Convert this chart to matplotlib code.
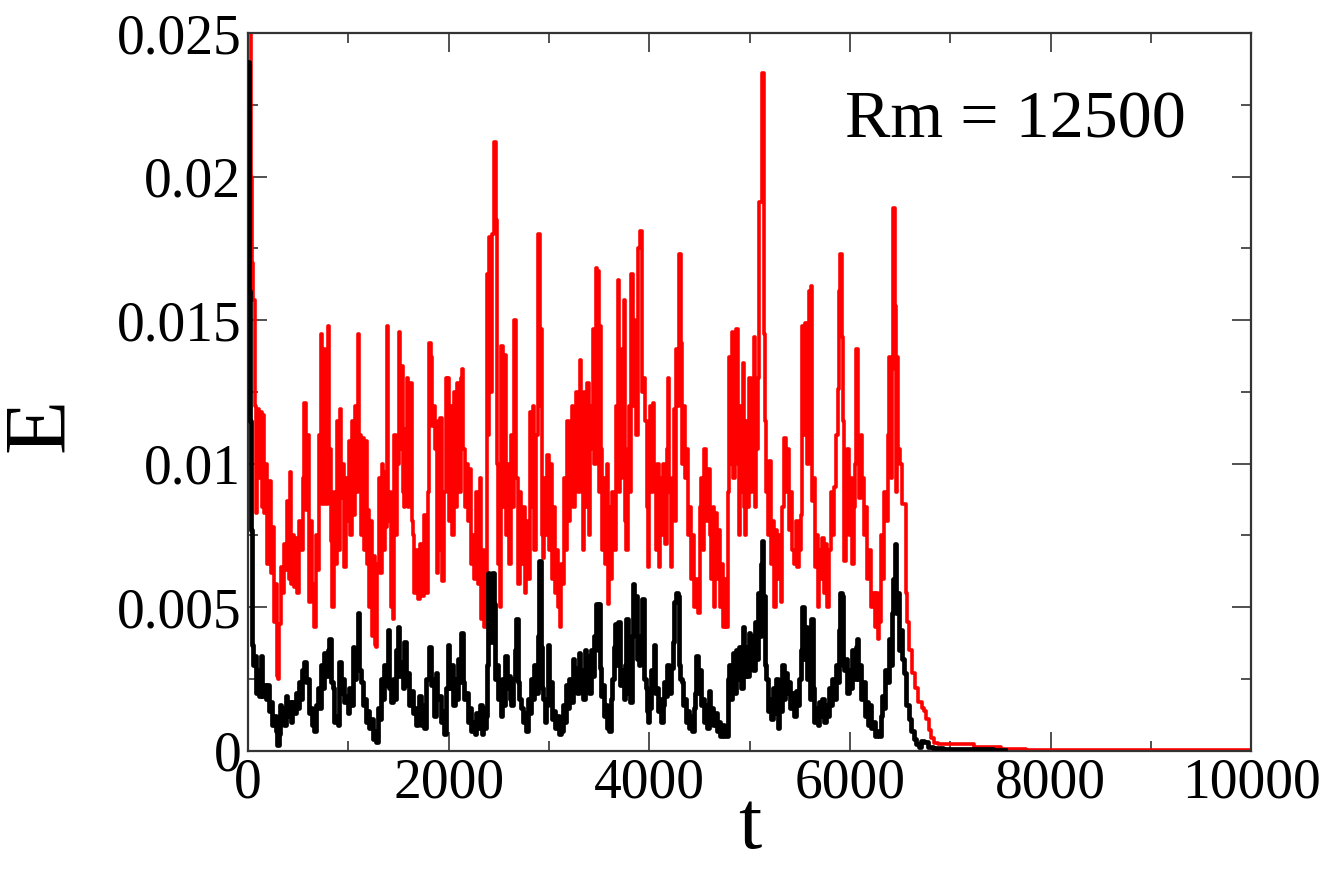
import numpy as np
import matplotlib
matplotlib.use("Agg")
import matplotlib.pyplot as plt
from matplotlib.ticker import MultipleLocator

plt.rcParams['font.family'] = ['Liberation Serif', 'DejaVu Serif']

# values, E given in units of 1e-3
red_pts = [
    (0, 26.0), (25, 25.5), (35, 20.0), (45, 17.0), (60, 15.7), (75, 12.0), (85, 8.3), (100, 11.9),
    (115, 9.5), (130, 11.8), (140, 8.5), (150, 11.7), (165, 8.3), (183, 10.0), (200, 6.5), (215, 9.4),
    (233, 6.2), (250, 7.8), (265, 4.5), (283, 5.8), (295, 2.6), (305, 2.5), (317, 4.4), (330, 6.4),
    (345, 5.5), (360, 7.2), (380, 6.3), (400, 8.7), (410, 6.0), (417, 9.7), (430, 5.8), (450, 7.5),
    (467, 5.7), (480, 7.4), (500, 5.5), (520, 8.0), (540, 7.0), (555, 9.5), (567, 12.1), (580, 8.4),
    (600, 11.0), (615, 5.2), (630, 8.0), (645, 5.8), (667, 4.3), (680, 7.5), (700, 6.3), (715, 11.0),
    (733, 14.5), (745, 8.6), (760, 14.0), (772, 9.0), (783, 8.6), (800, 14.8), (815, 10.5), (830, 7.3),
    (850, 5.0), (865, 9.0), (880, 6.5), (895, 11.5), (905, 7.0), (917, 11.9), (930, 8.8), (945, 10.0),
    (967, 6.4), (980, 9.5), (995, 8.0), (1010, 10.8), (1025, 7.5), (1040, 11.5), (1055, 8.2), (1070, 12.0),
    (1085, 9.0), (1100, 14.5), (1110, 9.5), (1120, 11.0), (1133, 7.5), (1145, 10.9), (1160, 7.0), (1175, 10.8),
    (1190, 6.5), (1200, 8.4), (1215, 5.0), (1230, 8.0), (1245, 4.0), (1260, 6.8), (1275, 3.7), (1283, 3.6),
    (1295, 6.5), (1310, 9.5), (1325, 6.2), (1340, 10.0), (1355, 7.0), (1367, 9.7), (1380, 7.8), (1393, 14.8),
    (1405, 8.0), (1420, 9.0), (1435, 5.0), (1450, 4.6), (1465, 11.0), (1480, 7.5), (1495, 10.0), (1507, 14.6),
    (1520, 10.5), (1533, 13.4), (1545, 9.0), (1560, 8.5), (1575, 11.2), (1583, 13.0), (1595, 8.5), (1610, 10.5),
    (1623, 12.8), (1640, 8.0), (1650, 7.5), (1665, 5.5), (1680, 7.0), (1700, 5.3), (1720, 7.2), (1740, 5.4),
    (1767, 8.2), (1785, 5.5), (1800, 9.0), (1815, 14.2), (1830, 13.7), (1845, 11.3), (1860, 12.0), (1875, 10.5),
    (1890, 6.2), (1900, 11.5), (1910, 7.0), (1925, 11.6), (1945, 5.9), (1960, 9.0), (1980, 13.0), (1990, 11.0),
    (2000, 13.0), (2010, 8.0), (2030, 12.0), (2045, 7.5), (2060, 12.5), (2075, 8.5), (2095, 12.8), (2110, 9.0),
    (2125, 13.0), (2140, 13.3), (2150, 10.5), (2165, 8.5), (2180, 10.0), (2195, 8.0), (2210, 9.8), (2225, 6.5),
    (2245, 7.5), (2260, 6.0), (2280, 9.0), (2300, 5.8), (2315, 9.5), (2330, 4.6), (2345, 7.0), (2365, 4.3),
    (2380, 6.0), (2390, 16.6), (2400, 11.0), (2410, 17.9), (2420, 12.5), (2440, 18.0), (2455, 21.2), (2465, 21.2),
    (2475, 18.5), (2485, 10.0), (2495, 6.5), (2505, 9.0), (2515, 5.0), (2530, 14.1), (2545, 8.5), (2560, 13.8),
    (2575, 7.5), (2590, 10.0), (2610, 6.5), (2625, 11.0), (2640, 8.5), (2655, 15.0), (2665, 15.0), (2680, 9.5),
    (2700, 5.8), (2715, 9.0), (2730, 6.5), (2750, 8.5), (2765, 5.5), (2780, 8.0), (2800, 6.0), (2815, 11.8),
    (2830, 8.5), (2845, 12.0), (2860, 7.0), (2880, 11.0), (2895, 18.0), (2905, 18.0), (2915, 12.0), (2925, 14.7),
    (2935, 7.5), (2945, 6.7), (2960, 9.5), (2975, 7.5), (2990, 10.3), (3005, 7.0), (3020, 10.0), (3035, 6.0),
    (3050, 8.5), (3065, 5.5), (3080, 7.0), (3095, 5.0), (3115, 4.3), (3130, 6.5), (3145, 5.8), (3160, 9.5),
    (3175, 7.0), (3190, 11.5), (3205, 8.0), (3220, 10.5), (3235, 12.0), (3250, 8.5), (3265, 10.0), (3280, 12.5),
    (3295, 9.0), (3315, 13.6), (3330, 10.5), (3345, 7.0), (3360, 12.5), (3375, 8.5), (3390, 12.8), (3400, 7.5),
    (3415, 10.5), (3430, 12.0), (3445, 14.7), (3460, 10.0), (3475, 16.8), (3490, 16.7), (3500, 9.0), (3510, 14.8),
    (3525, 10.5), (3540, 7.0), (3555, 9.5), (3570, 6.5), (3585, 10.0), (3593, 5.1), (3605, 8.5), (3620, 6.0),
    (3640, 9.0), (3660, 7.0), (3675, 12.0), (3693, 16.4), (3705, 9.0), (3715, 13.0), (3725, 9.5), (3740, 14.0),
    (3753, 15.7), (3765, 8.0), (3775, 7.0), (3790, 10.5), (3805, 12.0), (3815, 9.0), (3825, 16.6), (3840, 12.0),
    (3850, 15.0), (3862, 13.0), (3880, 11.0), (3900, 17.5), (3920, 18.1), (3935, 12.5), (3950, 13.0), (3965, 11.5),
    (3980, 8.5), (3993, 6.4), (4005, 10.0), (4015, 12.0), (4025, 9.0), (4040, 12.1), (4055, 9.5), (4070, 7.0),
    (4085, 10.0), (4100, 6.4), (4115, 9.5), (4130, 7.5), (4150, 10.0), (4165, 7.2), (4180, 10.5), (4193, 13.0),
    (4205, 9.0), (4220, 6.4), (4235, 9.5), (4250, 11.9), (4265, 8.0), (4275, 14.0), (4290, 12.0), (4310, 17.3),
    (4320, 14.2), (4335, 10.0), (4345, 12.0), (4360, 9.5), (4375, 10.5), (4390, 7.5), (4405, 8.5), (4420, 6.0),
    (4440, 7.5), (4455, 5.0), (4475, 6.0), (4493, 4.8), (4510, 8.5), (4525, 9.5), (4540, 7.0), (4560, 10.5),
    (4575, 8.0), (4595, 9.8), (4610, 7.5), (4625, 6.0), (4635, 8.5), (4650, 5.0), (4665, 8.3), (4680, 6.0),
    (4700, 7.7), (4715, 5.0), (4730, 6.5), (4743, 4.3), (4760, 6.0), (4775, 4.3), (4790, 9.0), (4800, 13.7),
    (4815, 10.0), (4830, 14.6), (4845, 9.5), (4860, 12.0), (4875, 14.7), (4885, 10.0), (4895, 7.5), (4910, 12.0),
    (4925, 9.0), (4935, 13.5), (4950, 8.5), (4960, 7.5), (4975, 11.5), (4990, 8.5), (5005, 13.0), (5020, 9.0),
    (5035, 12.5), (5045, 14.4), (5060, 8.5), (5075, 10.5), (5090, 13.0), (5100, 19.1), (5115, 19.1), (5125, 23.6),
    (5135, 23.6), (5145, 14.5), (5160, 11.5), (5175, 9.0), (5190, 7.5), (5205, 10.1), (5220, 6.5), (5235, 8.0),
    (5255, 5.0), (5270, 7.7), (5285, 6.0), (5300, 7.5), (5320, 5.2), (5335, 8.5), (5355, 10.9), (5370, 9.0),
    (5390, 10.5), (5405, 7.7), (5420, 9.0), (5435, 7.0), (5450, 6.5), (5465, 8.0), (5480, 6.4), (5495, 8.0),
    (5505, 7.0), (5515, 8.2), (5530, 14.8), (5545, 11.0), (5560, 14.9), (5580, 10.0), (5600, 16.0), (5615, 16.2),
    (5625, 8.7), (5640, 9.5), (5655, 6.4), (5670, 7.5), (5688, 5.0), (5700, 7.0), (5715, 6.0), (5730, 7.4),
    (5745, 5.5), (5760, 7.2), (5785, 5.0), (5800, 7.0), (5820, 9.0), (5835, 7.5), (5855, 9.2), (5870, 11.0),
    (5885, 12.6), (5900, 16.0), (5912, 17.3), (5925, 14.4), (5935, 11.5), (5950, 6.6), (5965, 9.0), (5985, 10.5),
    (6000, 7.5), (6015, 9.5), (6030, 6.5), (6045, 8.5), (6060, 10.0), (6071, 14.0), (6085, 10.5), (6100, 8.8),
    (6115, 11.0), (6135, 9.5), (6150, 7.5), (6165, 8.5), (6185, 6.0), (6200, 7.0), (6220, 5.0), (6240, 5.5),
    (6255, 4.3), (6270, 5.5), (6285, 3.9), (6300, 4.5), (6320, 7.5), (6335, 6.0), (6350, 9.0), (6365, 8.0),
    (6385, 11.0), (6400, 13.7), (6415, 9.5), (6425, 13.3), (6435, 18.9), (6445, 18.9), (6455, 15.5), (6465, 9.0),
    (6475, 13.7), (6490, 10.5), (6505, 10.0), (6525, 8.6), (6550, 8.6), (6565, 5.5), (6583, 4.5), (6605, 3.5),
    (6633, 2.7), (6660, 2.2), (6700, 1.7), (6730, 1.5), (6750, 1.4), (6775, 1.1), (6800, 0.73), (6825, 0.45),
    (6850, 0.28), (6900, 0.23), (7230, 0.23), (7240, 0.12), (7500, 0.12), (7510, 0.08), (7750, 0.08),
    (7760, 0.03), (10000, 0.03),
]

black_pts = [
    (0, 24.0), (8, 23.5), (12, 16.0), (20, 11.5), (30, 7.7), (40, 3.7), (55, 3.0), (70, 3.3),
    (83, 2.0), (100, 2.8), (117, 1.9), (133, 3.3), (150, 1.9), (167, 2.3), (183, 1.8), (200, 2.3),
    (217, 1.4), (233, 1.7), (250, 0.9), (267, 1.2), (283, 0.7), (300, 0.2), (310, 0.6), (317, 1.6),
    (333, 1.1), (350, 1.5), (367, 0.9), (383, 1.9), (400, 1.2), (417, 1.7), (433, 1.0), (450, 1.7),
    (467, 1.3), (483, 2.0), (500, 1.5), (517, 2.4), (533, 1.8), (550, 2.8), (567, 3.1), (583, 2.4),
    (600, 2.5), (617, 1.3), (633, 1.5), (650, 0.9), (667, 0.7), (683, 1.6), (700, 2.2), (717, 1.5),
    (733, 3.0), (750, 2.2), (767, 3.4), (783, 2.6), (800, 3.5), (817, 3.9), (833, 2.4), (850, 2.2),
    (867, 1.0), (883, 1.2), (900, 0.9), (917, 3.1), (933, 2.0), (950, 2.5), (967, 1.7), (983, 1.9),
    (1000, 1.3), (1017, 2.2), (1033, 1.6), (1050, 3.6), (1067, 2.5), (1083, 3.4), (1100, 4.8), (1117, 2.8),
    (1133, 2.4), (1150, 1.6), (1167, 1.8), (1183, 1.0), (1200, 1.4), (1217, 0.8), (1233, 1.1), (1250, 0.4),
    (1267, 0.7), (1283, 0.3), (1300, 1.5), (1317, 1.1), (1333, 2.5), (1350, 1.8), (1367, 3.0), (1383, 2.3),
    (1400, 4.2), (1417, 2.2), (1433, 1.7), (1450, 2.5), (1467, 1.8), (1483, 3.5), (1500, 4.3), (1517, 2.6),
    (1533, 3.1), (1550, 2.2), (1567, 3.8), (1583, 2.3), (1600, 2.7), (1617, 1.6), (1633, 2.1), (1650, 1.3),
    (1667, 1.5), (1683, 0.9), (1700, 1.3), (1715, 1.9), (1730, 0.9), (1750, 1.6), (1765, 0.8), (1790, 2.5),
    (1815, 3.6), (1830, 2.3), (1850, 2.5), (1865, 1.2), (1880, 2.7), (1895, 1.8), (1910, 1.9), (1930, 1.0),
    (1950, 1.4), (1965, 0.6), (1980, 2.2), (1998, 3.7), (2015, 2.2), (2030, 3.0), (2050, 1.6), (2065, 2.5),
    (2085, 1.8), (2100, 3.2), (2115, 2.4), (2131, 4.1), (2145, 2.4), (2165, 1.8), (2180, 2.0), (2195, 1.0),
    (2210, 1.5), (2230, 0.7), (2250, 1.0), (2265, 0.6), (2280, 1.3), (2300, 0.8), (2320, 1.6), (2335, 0.6),
    (2350, 1.5), (2365, 0.8), (2380, 1.2), (2390, 3.0), (2398, 6.2), (2410, 5.0), (2420, 6.0), (2432, 3.8),
    (2440, 6.2), (2455, 5.1), (2465, 2.5), (2480, 3.0), (2495, 1.8), (2510, 2.0), (2525, 1.2), (2540, 2.5),
    (2555, 1.6), (2570, 3.3), (2585, 2.2), (2600, 2.6), (2615, 1.8), (2630, 1.6), (2650, 2.5), (2665, 3.5),
    (2681, 4.6), (2695, 2.4), (2710, 1.8), (2730, 1.5), (2745, 1.0), (2760, 1.3), (2780, 0.7), (2800, 1.8),
    (2815, 1.3), (2830, 2.5), (2845, 1.8), (2860, 3.0), (2880, 2.0), (2895, 4.0), (2914, 6.6), (2925, 3.6),
    (2935, 2.2), (2950, 1.8), (2965, 1.0), (2980, 1.6), (2995, 3.7), (3010, 2.0), (3025, 2.4), (3040, 1.1),
    (3055, 1.4), (3070, 0.8), (3090, 1.2), (3110, 0.6), (3130, 0.7), (3145, 1.6), (3160, 1.0), (3175, 2.3),
    (3190, 1.5), (3210, 2.5), (3225, 1.7), (3245, 3.2), (3260, 2.4), (3275, 2.9), (3290, 2.0), (3305, 3.4),
    (3320, 2.2), (3335, 2.8), (3350, 1.8), (3365, 3.5), (3380, 2.4), (3395, 3.3), (3410, 2.0), (3430, 3.5),
    (3445, 2.6), (3460, 4.0), (3480, 5.1), (3490, 3.5), (3500, 5.1), (3510, 2.9), (3525, 1.9), (3540, 2.3),
    (3555, 1.2), (3575, 1.6), (3590, 0.8), (3610, 0.7), (3625, 1.8), (3640, 2.5), (3655, 3.6), (3670, 4.4),
    (3685, 3.0), (3700, 4.5), (3715, 2.3), (3735, 2.8), (3750, 1.8), (3765, 3.0), (3776, 4.6), (3790, 2.0),
    (3805, 2.4), (3818, 1.7), (3830, 4.0), (3843, 5.8), (3855, 4.5), (3870, 5.4), (3885, 3.2), (3900, 3.0),
    (3920, 4.0), (3943, 5.3), (3955, 2.5), (3970, 2.2), (3985, 1.4), (3995, 1.0), (4005, 1.5), (4020, 2.8),
    (4035, 2.2), (4050, 3.7), (4065, 2.0), (4080, 2.2), (4095, 1.4), (4110, 1.8), (4125, 1.0), (4140, 1.6),
    (4155, 2.4), (4170, 1.9), (4190, 3.0), (4210, 2.0), (4225, 2.9), (4240, 3.8), (4260, 5.2), (4276, 5.5),
    (4290, 5.4), (4300, 3.0), (4315, 2.5), (4330, 2.4), (4345, 1.6), (4360, 1.8), (4375, 1.0), (4390, 1.4),
    (4405, 0.8), (4420, 1.2), (4435, 0.7), (4450, 1.5), (4465, 2.0), (4475, 3.3), (4490, 2.0), (4505, 2.8),
    (4520, 1.6), (4535, 1.8), (4550, 1.0), (4565, 1.6), (4580, 0.8), (4600, 2.1), (4615, 1.2), (4630, 1.5),
    (4645, 0.9), (4660, 1.3), (4680, 0.7), (4700, 1.0), (4715, 0.5), (4735, 0.9), (4755, 0.5), (4775, 0.5),
    (4790, 2.5), (4805, 3.0), (4815, 1.8), (4830, 2.5), (4845, 3.4), (4860, 2.0), (4875, 3.5), (4890, 2.5),
    (4905, 3.6), (4920, 2.2), (4942, 4.3), (4955, 2.6), (4970, 3.6), (4985, 2.6), (5000, 4.1), (5015, 3.0),
    (5030, 4.0), (5045, 2.8), (5060, 4.5), (5075, 3.2), (5090, 5.5), (5105, 4.0), (5115, 6.5), (5125, 7.3),
    (5135, 5.0), (5150, 5.4), (5160, 3.0), (5175, 2.5), (5190, 1.4), (5205, 1.8), (5220, 1.1), (5240, 2.2),
    (5255, 1.3), (5270, 2.5), (5290, 0.8), (5305, 2.0), (5320, 1.4), (5335, 3.0), (5350, 1.8), (5365, 2.7),
    (5380, 2.0), (5400, 2.4), (5415, 1.5), (5430, 2.0), (5450, 1.2), (5470, 2.1), (5485, 1.6), (5500, 2.5),
    (5515, 3.5), (5530, 5.0), (5545, 3.2), (5560, 4.3), (5575, 2.5), (5590, 3.0), (5605, 1.8), (5621, 4.6),
    (5635, 2.2), (5655, 1.0), (5670, 1.5), (5688, 0.9), (5700, 1.7), (5715, 1.2), (5735, 1.8), (5750, 1.0),
    (5765, 1.6), (5785, 1.2), (5800, 2.2), (5815, 1.6), (5835, 2.5), (5850, 1.8), (5870, 3.0), (5885, 2.4),
    (5900, 4.2), (5911, 5.5), (5925, 5.4), (5935, 3.0), (5950, 2.8), (5965, 3.2), (5985, 2.0), (6000, 2.8),
    (6015, 2.2), (6035, 3.5), (6050, 2.5), (6065, 3.6), (6077, 3.9), (6090, 2.5), (6105, 3.0), (6120, 1.8),
    (6140, 2.4), (6155, 1.2), (6170, 1.7), (6185, 0.9), (6200, 1.6), (6220, 0.8), (6240, 1.0), (6260, 0.5),
    (6280, 0.7), (6297, 0.5), (6315, 1.2), (6330, 1.9), (6345, 1.5), (6360, 2.8), (6375, 2.4), (6395, 3.9),
    (6410, 3.0), (6425, 4.8), (6440, 6.0), (6454, 7.2), (6465, 4.8), (6480, 5.5), (6495, 3.5), (6510, 4.2),
    (6530, 3.2), (6550, 2.7), (6575, 1.6), (6600, 1.1), (6625, 0.7), (6650, 0.4), (6675, 0.25), (6700, 0.15),
    (6720, 0.35), (6750, 0.3), (6800, 0.15), (6850, 0.1), (7000, 0.08), (7300, 0.06), (7550, 0.03),
]

xticks = [0, 2000, 4000, 6000, 8000, 10000]
xtick_labels = ['0', '2000', '4000', '6000', '8000', '10000']
yticks = [0, 0.005, 0.01, 0.015, 0.02, 0.025]
ytick_labels = ['0', '0.005', '0.01', '0.015', '0.02', '0.025']
annotation = 'Rm = 12500'

red_t = np.array([p[0] for p in red_pts])
red_e = np.array([p[1] for p in red_pts]) * 1e-3
black_t = np.array([p[0] for p in black_pts])
black_e = np.array([p[1] for p in black_pts]) * 1e-3

fig = plt.figure(figsize=(13.27, 8.69), dpi=100)
ax = fig.add_axes([0.187, 0.136, 0.7558, 0.826])

ax.plot(red_t, red_e, color='#ff0000', linewidth=2.6, drawstyle='steps-mid', zorder=2)
ax.plot(black_t, black_e, color='black', linewidth=3.4, drawstyle='steps-mid', zorder=3)

ax.set_xlim(0, 10000)
ax.set_ylim(0, 0.025)
ax.set_xticks(xticks)
ax.set_xticklabels(xtick_labels)
ax.set_yticks(yticks)
ax.set_yticklabels(ytick_labels)
ax.xaxis.set_minor_locator(MultipleLocator(1000))
ax.yaxis.set_minor_locator(MultipleLocator(0.0025))
ax.tick_params(which='both', direction='in', top=True, right=True,
               labelsize=40, color='#333333', width=1.2, pad=5)
ax.tick_params(which='major', length=14)
ax.tick_params(which='minor', length=7)
for sp in ax.spines.values():
    sp.set_linewidth(1.6)
    sp.set_color('#333333')

ax.set_xlabel('t', fontsize=60, va='baseline')
ax.set_ylabel('E', fontsize=64)
ax.xaxis.set_label_coords(0.5, -0.136)
ax.yaxis.set_label_coords(-0.166, 0.454)

ax.text(0.595, 0.855, annotation, transform=ax.transAxes, fontsize=49,
        ha='left', va='baseline')

fig.savefig('out.png', dpi=100, facecolor='white')
